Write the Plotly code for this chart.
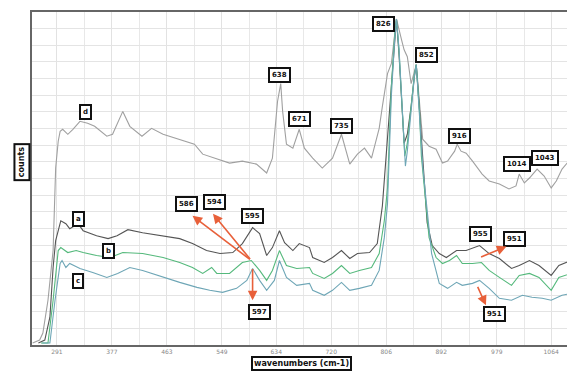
import plotly.graph_objects as go

# ---- data (wavenumber, counts) ----
wn_d = [253, 264, 269, 277, 285, 289, 293, 296, 300, 308, 316, 327, 339, 350, 369, 378, 394, 405, 424, 439,
        457, 483, 506, 519, 541, 561, 581, 603, 619, 628, 636, 641, 644, 650, 660, 670, 678, 686, 691, 706,
        722, 736, 749, 761, 772, 783, 795, 800, 808, 814, 822, 830, 834, 839, 845, 853, 858, 863, 873, 884,
        894, 902, 913, 917, 923, 931, 941, 956, 967, 983, 998, 1009, 1014, 1022, 1030, 1042, 1053, 1064,
        1072, 1081, 1089, 1095]
cnt_d = [2, 5, 12, 45, 95, 178, 205, 215, 217, 212, 217, 225, 223, 220, 210, 212, 235, 220, 210, 218,
         212, 207, 202, 192, 187, 183, 185, 182, 173, 188, 245, 263, 235, 202, 198, 217, 198, 192, 188, 178,
         188, 212, 182, 192, 198, 188, 218, 240, 273, 283, 328, 307, 297, 290, 263, 282, 240, 207, 200, 197,
         183, 185, 195, 202, 195, 193, 185, 172, 165, 162, 157, 160, 172, 163, 168, 177, 170, 158,
         165, 177, 183, 187]

wn_a = [262, 272, 280, 285, 289, 297, 305, 311, 324, 332, 353, 371, 385, 402, 425, 457, 483, 503, 525, 546,
        566, 581, 597, 608, 619, 628, 639, 647, 660, 670, 686, 691, 709, 722, 736, 749, 761, 780, 792, 800,
        808, 814, 819, 822, 826, 830, 834, 839, 845, 850, 853, 858, 861, 866, 870, 878, 889, 900, 916, 931,
        952, 967, 983, 1002, 1014, 1030, 1045, 1064, 1076, 1095]
cnt_a = [2, 5, 28, 78, 105, 125, 122, 117, 122, 115, 110, 107, 110, 116, 113, 110, 107, 102, 95, 92,
         93, 102, 118, 112, 90, 98, 115, 103, 95, 102, 98, 88, 83, 88, 95, 87, 92, 93, 102, 140,
         207, 257, 307, 328, 292, 248, 203, 212, 240, 270, 282, 237, 207, 157, 123, 100, 92, 88, 95, 95,
         100, 92, 87, 77, 80, 85, 80, 70, 80, 85]

wn_b = [266, 277, 285, 293, 297, 308, 321, 332, 353, 374, 394, 425, 457, 483, 503, 519, 533, 541, 561, 581,
        595, 608, 619, 628, 639, 650, 666, 686, 691, 709, 722, 736, 749, 764, 783, 795, 803, 808, 811, 814,
        819, 822, 826, 830, 835, 839, 845, 850, 853, 858, 861, 866, 873, 884, 894, 905, 916, 925, 941, 955,
        967, 983, 1002, 1014, 1030, 1045, 1064, 1076, 1095]
cnt_b = [2, 2, 45, 95, 98, 93, 95, 93, 90, 88, 93, 92, 88, 83, 78, 72, 78, 72, 72, 83,
         85, 75, 65, 75, 95, 80, 77, 78, 72, 67, 72, 80, 72, 75, 78, 92, 125, 158, 210, 260,
         310, 328, 296, 245, 190, 203, 240, 272, 282, 235, 190, 158, 108, 88, 82, 85, 90, 82, 82, 83,
         75, 68, 60, 70, 72, 68, 55, 68, 72]

wn_c = [268, 280, 288, 296, 299, 305, 311, 327, 347, 369, 386, 405, 425, 457, 483, 510, 530, 550, 572, 588,
        597, 608, 619, 631, 639, 650, 666, 686, 691, 709, 722, 736, 749, 764, 783, 795, 803, 808, 814, 819,
        822, 826, 830, 836, 839, 845, 850, 853, 858, 863, 869, 877, 889, 902, 916, 925, 941, 952, 967, 983,
        1002, 1019, 1034, 1050, 1064, 1081, 1095]
cnt_c = [2, 2, 45, 82, 85, 78, 82, 77, 73, 68, 72, 78, 75, 68, 63, 58, 55, 53, 57, 65,
         77, 65, 55, 65, 85, 68, 60, 62, 55, 50, 55, 63, 55, 57, 60, 75, 108, 142, 250, 305,
         328, 298, 245, 180, 195, 235, 270, 282, 230, 180, 142, 92, 62, 57, 63, 60, 62, 65, 57, 47,
         45, 50, 48, 47, 45, 50, 52]

tick_vals = [291, 377, 463, 549, 634, 720, 806, 892, 979, 1064]
tick_text = ["291", "377", "463", "549", "634", "720", "806", "892", "979", "1064"]

# boxed peak labels: text, wavenumber, counts
label_text = ["d", "638", "671", "735", "826", "852", "916", "1014", "1043",
              "a", "b", "c", "586", "594", "595", "597", "955", "951", "951"]
label_wn = [335, 639, 670, 736, 801, 869, 920, 1011, 1054,
            325, 372, 324, 493, 538, 597, 608, 953, 1006, 975]
label_cnt = [234, 272, 227, 220, 323, 292, 210, 182, 188,
             127, 95, 64, 142, 144, 130, 33, 112, 107, 31]

# arrows: from (tail) spectrum point to (head) label
arrow_tail_wn = [595, 595, 597, 952, 948]
arrow_tail_cnt = [85, 85, 78, 88, 60]
arrow_head_wn = [503, 535, 597, 994, 962]
arrow_head_cnt = [130, 132, 45, 99, 40]

fig = go.Figure()
series = [("d", wn_d, cnt_d, "#a0a0a0"),
          ("a", wn_a, cnt_a, "#555555"),
          ("b", wn_b, cnt_b, "#55b97c"),
          ("c", wn_c, cnt_c, "#6ea6b6")]
for name, xs, ys, col in series:
    fig.add_trace(go.Scatter(x=xs, y=ys, mode="lines", name=name,
                             line=dict(color=col, width=1.1), showlegend=False))

annotations = []
for t, x, y in zip(label_text, label_wn, label_cnt):
    annotations.append(dict(x=x, y=y, xref="x", yref="y", text="<b>%s</b>" % t,
                            showarrow=False, font=dict(size=7, color="#111", family="DejaVu Sans"),
                            bgcolor="white", bordercolor="#111", borderwidth=2, borderpad=2))
for tx, ty, hx, hy in zip(arrow_tail_wn, arrow_tail_cnt, arrow_head_wn, arrow_head_cnt):
    annotations.append(dict(x=hx, y=hy, ax=tx, ay=ty, xref="x", yref="y", axref="x", ayref="y",
                            text="", showarrow=True, arrowhead=2, arrowsize=1.2, arrowwidth=1.6,
                            arrowcolor="#e8603a"))
annotations.append(dict(x=0.5, y=-0.056, xref="paper", yref="paper", yanchor="middle",
                        text="<b>wavenumbers (cm-1)</b>", showarrow=False,
                        font=dict(size=8, color="#111", family="DejaVu Sans"),
                        bgcolor="white", bordercolor="#111", borderwidth=2, borderpad=1))
annotations.append(dict(x=-0.018, y=0.55, xref="paper", yref="paper", xanchor="center",
                        text="<b>counts</b>", textangle=-90, showarrow=False,
                        font=dict(size=8, color="#111", family="DejaVu Sans"),
                        bgcolor="white", bordercolor="#111", borderwidth=2, borderpad=2))

# the page body adds an 8px offset, so the figure is sized to fit the window
fig.update_layout(
    width=567, height=368,
    margin=dict(l=24, r=3, t=2, b=31),
    paper_bgcolor="white", plot_bgcolor="white",
    annotations=annotations,
    xaxis=dict(range=[252, 1095], tickmode="array", tickvals=tick_vals, ticktext=tick_text,
               tickfont=dict(size=6, color="#888", family="DejaVu Sans"),
               showgrid=True, gridcolor="#e2e2e2", gridwidth=1,
               minor=dict(tickmode="array",
                          tickvals=[(tick_vals[i] + tick_vals[i + 1]) / 2 for i in range(len(tick_vals) - 1)]
                          + [tick_vals[-1] + 43],
                          showgrid=True, gridcolor="#e8e8e8"),
               showline=True, linecolor="#666", linewidth=1.5, mirror=True, zeroline=False, ticks=""),
    yaxis=dict(range=[0, 335], tick0=0, dtick=16.75, showticklabels=False,
               showgrid=True, gridcolor="#e4e4e4", gridwidth=1,
               showline=True, linecolor="#666", linewidth=1.5, mirror=True, zeroline=False, ticks=""),
)

fig.write_html("out.html")
